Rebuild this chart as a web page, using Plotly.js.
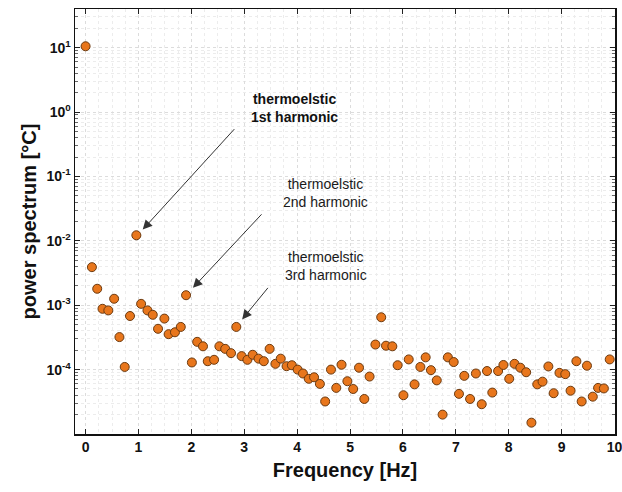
<!DOCTYPE html>
<html>
<head>
<meta charset="utf-8">
<script src="https://cdn.plot.ly/plotly-3.0.1.min.js"></script>
<style>html,body{margin:0;padding:0;background:#fff;}#chart{width:622px;height:492px;}</style>
</head>
<body>
<div id="chart"></div>
<script>
const freqHz = [0, 0.12, 0.22, 0.32, 0.43, 0.54, 0.64, 0.74, 0.84, 0.96,
  1.05, 1.17, 1.27, 1.37, 1.49, 1.57, 1.69, 1.80, 1.90,
  2.01, 2.11, 2.22, 2.31, 2.43, 2.53, 2.64, 2.75, 2.85, 2.95,
  3.06, 3.16, 3.27, 3.37, 3.48, 3.59, 3.69, 3.80, 3.90,
  4.01, 4.11, 4.22, 4.32, 4.43, 4.53, 4.64, 4.74, 4.84, 4.95,
  5.06, 5.17, 5.27, 5.37, 5.48, 5.59, 5.68, 5.80, 5.90,
  6.01, 6.11, 6.22, 6.33, 6.43, 6.53, 6.64, 6.75, 6.85, 6.96,
  7.06, 7.16, 7.27, 7.38, 7.49, 7.59, 7.69, 7.80, 7.90,
  8.01, 8.11, 8.22, 8.33, 8.43, 8.54, 8.64, 8.75, 8.85, 8.96,
  9.07, 9.17, 9.28, 9.38, 9.48, 9.59, 9.69, 9.80, 9.91];

const powerC = [10.5, 3.9e-3, 1.8e-3, 8.8e-4, 8.3e-4, 1.26e-3, 3.2e-4, 1.1e-4, 6.8e-4, 1.22e-2,
  1.05e-3, 8.3e-4, 7.1e-4, 4.3e-4, 6.2e-4, 3.55e-4, 3.8e-4, 4.6e-4, 1.43e-3,
  1.29e-4, 2.7e-4, 2.3e-4, 1.35e-4, 1.42e-4, 2.3e-4, 2.1e-4, 1.8e-4, 4.6e-4, 1.62e-4,
  1.42e-4, 1.7e-4, 1.48e-4, 1.35e-4, 2.1e-4, 1.23e-4, 1.48e-4, 1.13e-4, 1.17e-4,
  1.0e-4, 8.7e-5, 7.2e-5, 7.6e-5, 6.0e-5, 3.2e-5, 1.0e-4, 5.2e-5, 1.19e-4, 6.6e-5,
  5.0e-5, 1.07e-4, 3.5e-5, 7.8e-5, 2.45e-4, 6.5e-4, 2.35e-4, 2.3e-4, 1.17e-4,
  4.0e-5, 1.44e-4, 5.9e-5, 1.1e-4, 1.55e-4, 9.8e-5, 6.8e-5, 2.0e-5, 1.55e-4, 1.31e-4,
  4.2e-5, 8.0e-5, 3.5e-5, 8.7e-5, 2.9e-5, 9.5e-5, 4.4e-5, 9.5e-5, 1.18e-4,
  7.2e-5, 1.23e-4, 1.07e-4, 9.1e-5, 1.5e-5, 5.9e-5, 6.5e-5, 1.12e-4, 4.3e-5, 8.9e-5,
  8.5e-5, 4.7e-5, 1.35e-4, 3.2e-5, 1.15e-4, 3.8e-5, 5.2e-5, 5.1e-5, 1.44e-4];

const yTickVals = [1e-4, 1e-3, 1e-2, 1e-1, 1, 10];
const yTickText = ['10<sup>-4</sup>', '10<sup>-3</sup>', '10<sup>-2</sup>', '10<sup>-1</sup>', '10<sup>0</sup>', '10<sup>1</sup>'];
const xTickVals = [0, 1, 2, 3, 4, 5, 6, 7, 8, 9, 10];
const xTickText = ['0', '1', '2', '3', '4', '5', '6', '7', '8', '9', '10'];

const labels = ['<b>thermoelstic<br>1st harmonic</b>', 'thermoelstic<br>2nd harmonic', 'thermoelstic<br>3rd harmonic'];

const FONT = 'Liberation Sans, Arial, Helvetica, sans-serif';

const trace = {
  x: freqHz, y: powerC, type: 'scatter', mode: 'markers',
  marker: {size: 9, color: '#E8761C', line: {color: '#6b3a10', width: 1}},
  hoverinfo: 'x+y'
};

const layout = {
  width: 622, height: 492,
  margin: {l: 75, r: 7, t: 9, b: 58},
  paper_bgcolor: '#fff', plot_bgcolor: '#fff',
  showlegend: false,
  font: {family: FONT, color: '#111'},
  xaxis: {
    range: [-0.2, 10.01], tickmode: 'array', tickvals: xTickVals, ticktext: xTickText,
    ticklabeloverflow: 'allow',
    ticks: 'inside', ticklen: 5, tickcolor: '#222', mirror: 'allticks',
    showline: true, linecolor: '#111', linewidth: 1.5,
    showgrid: true, gridcolor: '#dcdcdc', griddash: 'dot', gridwidth: 1,
    zeroline: false,
    minor: {tickmode: 'linear', tick0: 0, dtick: 0.25, showgrid: true, gridcolor: '#ececec', griddash: 'dot', ticks: ''},
    tickfont: {family: FONT, size: 14, weight: 'bold', color: '#111'},
    title: {text: '<b>Frequency [Hz]</b>', font: {family: FONT, size: 20, color: '#111'}, standoff: 8}
  },
  yaxis: {
    type: 'log', range: [-5, 1.6], tickmode: 'array', tickvals: yTickVals, ticktext: yTickText,
    ticks: 'inside', ticklen: 5, tickcolor: '#222', mirror: 'allticks',
    showline: true, linecolor: '#111', linewidth: 1.5,
    showgrid: true, gridcolor: '#dcdcdc', griddash: 'dot', gridwidth: 1,
    zeroline: false,
    minor: {tickmode: 'linear', dtick: 'D1', ticks: 'inside', ticklen: 3, tickcolor: '#666', showgrid: true, gridcolor: '#ececec', griddash: 'dot'},
    tickfont: {family: FONT, size: 14, weight: 'bold', color: '#111'},
    title: {text: '<b>power spectrum [°C]</b>', font: {family: FONT, size: 20, color: '#111'}, standoff: 4}
  },
  annotations: [
    {x: 3.95, y: 0.065, xref: 'x', yref: 'y', text: labels[0], showarrow: false, font: {family: FONT, size: 14, color: '#111'}, align: 'center'},
    {x: 4.54, y: -1.253, xref: 'x', yref: 'y', text: labels[1], showarrow: false, font: {family: FONT, size: 14, color: '#1a1a1a'}, align: 'center'},
    {x: 4.54, y: -2.385, xref: 'x', yref: 'y', text: labels[2], showarrow: false, font: {family: FONT, size: 14, color: '#1a1a1a'}, align: 'center'},
    {x: 1.08, y: -1.826, xref: 'x', yref: 'y', text: '', showarrow: true, ax: 93, ay: -102, arrowhead: 2, arrowsize: 1.9, arrowwidth: 1, arrowcolor: '#333'},
    {x: 2.03, y: -2.73, xref: 'x', yref: 'y', text: '', showarrow: true, ax: 70, ay: -75, arrowhead: 2, arrowsize: 1.9, arrowwidth: 1, arrowcolor: '#333'},
    {x: 2.96, y: -3.22, xref: 'x', yref: 'y', text: '', showarrow: true, ax: 27, ay: -33, arrowhead: 2, arrowsize: 1.9, arrowwidth: 1, arrowcolor: '#333'}
  ]
};

Plotly.newPlot('chart', [trace], layout, {displayModeBar: false, staticPlot: true});
</script>
</body>
</html>
